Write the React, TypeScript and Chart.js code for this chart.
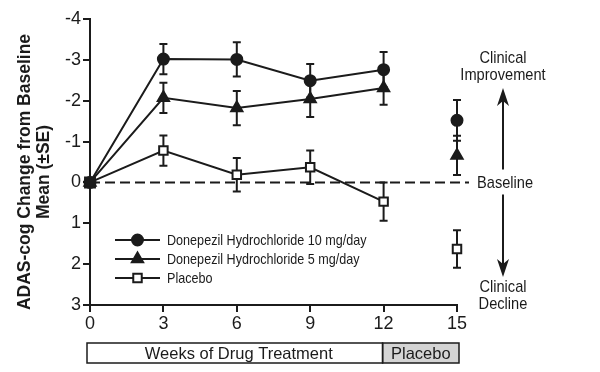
import React, { useEffect, useRef } from 'react';
import { Chart, registerables } from 'chart.js';

Chart.register(...registerables);

// ---- Data ----
const weeks = [0, 3, 6, 9, 12, 15];
const xTicks = [0, 3, 6, 9, 12, 15];
const yTicks = [-4, -3, -2, -1, 0, 1, 2, 3];
const seriesNames = [
  'Donepezil Hydrochloride 10 mg/day',
  'Donepezil Hydrochloride 5 mg/day',
  'Placebo',
];
const don10 = [0, -3.02, -3.01, -2.49, -2.76, -1.52];
const don10SE = [0, 0.37, 0.42, 0.41, 0.43, 0.5];
const don5 = [0, -2.07, -1.82, -2.04, -2.31, -0.66];
const don5SE = [0, 0.37, 0.42, 0.44, 0.41, 0.48];
const placebo = [0, -0.78, -0.19, -0.37, 0.47, 1.63];
const placeboSE = [0, 0.37, 0.41, 0.41, 0.47, 0.46];
const phaseLabels = ['Weeks of Drug Treatment', 'Placebo'];
const phaseBounds = [0, 12, 15];
const yTitle = ['ADAS-cog Change from Baseline', 'Mean (±SE)'];
const upLabel = ['Clinical', 'Improvement'];
const baselineLabel = 'Baseline';
const downLabel = ['Clinical', 'Decline'];

const INK = '#1b1b1b';
const SANS = '"Liberation Sans", Arial, Helvetica, sans-serif';

const styles = [
  { pointStyle: 'circle', radius: 5.5, fill: INK },
  { pointStyle: 'triangle', radius: 6.5, fill: INK },
  { pointStyle: 'rect', radius: 6, fill: '#ffffff' },
];

function narrowText(ctx: CanvasRenderingContext2D, text: string, x: number, y: number, sx: number) {
  ctx.save();
  ctx.translate(x, y);
  ctx.scale(sx, 1);
  ctx.fillText(text, 0, 0);
  ctx.restore();
}

function drawMarker(ctx: CanvasRenderingContext2D, kind: string, x: number, y: number, r: number, fill: string) {
  ctx.save();
  ctx.fillStyle = fill;
  ctx.strokeStyle = INK;
  ctx.lineWidth = 2;
  ctx.beginPath();
  if (kind === 'circle') {
    ctx.arc(x, y, r, 0, Math.PI * 2);
  } else if (kind === 'triangle') {
    const s = (r * Math.sqrt(3)) / 2;
    ctx.moveTo(x, y - r);
    ctx.lineTo(x + s, y + r / 2);
    ctx.lineTo(x - s, y + r / 2);
    ctx.closePath();
  } else {
    const h = r * Math.SQRT1_2;
    ctx.rect(x - h, y - h, 2 * h, 2 * h);
  }
  ctx.fill();
  ctx.stroke();
  ctx.restore();
}

const customPlugin = {
  id: 'customDraw',
  beforeDatasetsDraw(chart: any) {
    const { ctx } = chart;
    const x = chart.scales.x;
    const y = chart.scales.y;
    ctx.save();
    // dashed baseline
    ctx.strokeStyle = INK;
    ctx.lineWidth = 2;
    ctx.setLineDash([10, 5]);
    ctx.beginPath();
    ctx.moveTo(x.getPixelForValue(0), y.getPixelForValue(0));
    ctx.lineTo(x.getPixelForValue(15) + 12, y.getPixelForValue(0));
    ctx.stroke();
    ctx.setLineDash([]);
    // error bars
    const sets: [number[], number[]][] = [
      [don10, don10SE],
      [don5, don5SE],
      [placebo, placeboSE],
    ];
    ctx.lineWidth = 2;
    for (const [vals, se] of sets) {
      vals.forEach((v, i) => {
        if (!se[i]) return;
        const px = x.getPixelForValue(weeks[i]);
        const t = y.getPixelForValue(v - se[i]);
        const b = y.getPixelForValue(v + se[i]);
        ctx.beginPath();
        ctx.moveTo(px, t);
        ctx.lineTo(px, b);
        ctx.moveTo(px - 4, t);
        ctx.lineTo(px + 4, t);
        ctx.moveTo(px - 4, b);
        ctx.lineTo(px + 4, b);
        ctx.stroke();
      });
    }
    ctx.restore();
  },
  afterDraw(chart: any) {
    const { ctx, chartArea } = chart;
    const x = chart.scales.x;
    const y = chart.scales.y;
    ctx.save();
    ctx.fillStyle = INK;
    ctx.strokeStyle = INK;

    // legend
    const lx0 = chartArea.left + 25;
    const lx1 = chartArea.left + 70;
    seriesNames.forEach((name, i) => {
      const ly = chartArea.top + 221 + i * 19;
      ctx.lineWidth = 2;
      ctx.beginPath();
      ctx.moveTo(lx0, ly);
      ctx.lineTo(lx1, ly);
      ctx.stroke();
      drawMarker(ctx, styles[i].pointStyle, (lx0 + lx1) / 2, ly, styles[i].radius, styles[i].fill);
      ctx.fillStyle = INK;
      ctx.font = `15px ${SANS}`;
      ctx.textAlign = 'left';
      ctx.textBaseline = 'middle';
      narrowText(ctx, name, lx1 + 7, ly + 1, 0.84);
    });

    // y title
    ctx.save();
    ctx.font = `bold 17.5px ${SANS}`;
    ctx.textAlign = 'center';
    ctx.textBaseline = 'middle';
    const cy = (chartArea.top + chartArea.bottom) / 2 + 10;
    ctx.translate(25, cy);
    ctx.rotate(-Math.PI / 2);
    ctx.fillText(yTitle[0], 0, 0);
    ctx.fillText(yTitle[1], 0, 19);
    ctx.restore();

    // right annotations
    const ax = x.getPixelForValue(15) + 46;
    const y0 = y.getPixelForValue(0);
    const sx = 0.86;
    ctx.font = `17px ${SANS}`;
    ctx.textAlign = 'center';
    ctx.textBaseline = 'middle';
    narrowText(ctx, upLabel[0], ax, chartArea.top + 39, sx);
    narrowText(ctx, upLabel[1], ax, chartArea.top + 56, sx);
    narrowText(ctx, downLabel[0], ax, chartArea.bottom - 18, sx);
    narrowText(ctx, downLabel[1], ax, chartArea.bottom - 1, sx);
    ctx.textAlign = 'left';
    narrowText(ctx, baselineLabel, ax - 26, y0 + 1, sx);

    // arrows
    ctx.lineWidth = 2;
    const upTip = chartArea.top + 69;
    const downTip = chartArea.bottom - 28;
    ctx.beginPath();
    ctx.moveTo(ax, y0 - 13);
    ctx.lineTo(ax, upTip + 10);
    ctx.moveTo(ax, y0 + 12);
    ctx.lineTo(ax, downTip - 10);
    ctx.stroke();
    ctx.beginPath();
    ctx.moveTo(ax, upTip);
    ctx.lineTo(ax + 6, upTip + 18);
    ctx.lineTo(ax, upTip + 13);
    ctx.lineTo(ax - 6, upTip + 18);
    ctx.closePath();
    ctx.fill();
    ctx.beginPath();
    ctx.moveTo(ax, downTip);
    ctx.lineTo(ax + 6, downTip - 18);
    ctx.lineTo(ax, downTip - 13);
    ctx.lineTo(ax - 6, downTip - 18);
    ctx.closePath();
    ctx.fill();

    // phase boxes
    const bTop = chartArea.bottom + 38;
    const bH = 20;
    const p0 = x.getPixelForValue(phaseBounds[0]) - 3;
    const p1 = x.getPixelForValue(phaseBounds[1]) - 1;
    const p2 = x.getPixelForValue(phaseBounds[2]) + 2;
    ctx.lineWidth = 1.5;
    ctx.fillStyle = '#ffffff';
    ctx.fillRect(p0, bTop, p1 - p0, bH);
    ctx.fillStyle = '#d4d4d4';
    ctx.fillRect(p1, bTop, p2 - p1, bH);
    ctx.strokeRect(p0, bTop, p1 - p0, bH);
    ctx.strokeRect(p1, bTop, p2 - p1, bH);
    ctx.fillStyle = INK;
    ctx.font = `16.5px ${SANS}`;
    ctx.textAlign = 'center';
    ctx.textBaseline = 'middle';
    ctx.fillText(phaseLabels[0], (p0 + p1) / 2 + 4, bTop + bH / 2 + 1);
    ctx.fillText(phaseLabels[1], (p1 + p2) / 2, bTop + bH / 2 + 1);
    ctx.restore();
  },
};

export default function App() {
  const ref = useRef<HTMLCanvasElement | null>(null);
  useEffect(() => {
    if (!ref.current) return;
    const mk = (vals: number[], i: number) => ({
      label: seriesNames[i],
      data: weeks.map((w, j) => ({ x: w, y: vals[j] })),
      borderColor: INK,
      borderWidth: 2,
      pointStyle: styles[i].pointStyle,
      pointRadius: weeks.map((w, j) => (j === 0 && i === 2 ? 7 : styles[i].radius)),
      pointBackgroundColor: weeks.map((w, j) => (j === 0 ? INK : styles[i].fill)),
      pointBorderColor: INK,
      pointBorderWidth: 2,
      tension: 0,
      clip: false,
      segment: {
        borderColor: (c: any) => (c.p1DataIndex === weeks.length - 1 ? 'rgba(0,0,0,0)' : INK),
      },
    });
    const chart = new Chart(ref.current, {
      type: 'line',
      data: {
        datasets: [mk(don10, 0), mk(don5, 1), mk(placebo, 2)] as any,
      },
      options: {
        animation: false,
        responsive: true,
        maintainAspectRatio: false,
        layout: { padding: { top: 19, right: 143, left: 0, bottom: 0 } },
        plugins: { legend: { display: false }, tooltip: { enabled: false } },
        scales: {
          x: {
            type: 'linear',
            min: 0,
            max: 15,
            afterBuildTicks: (s: any) => {
              s.ticks = xTicks.map((v) => ({ value: v }));
            },
            afterFit: (s: any) => {
              s.height = 67;
            },
            ticks: { font: { family: SANS, size: 18 }, color: INK, padding: 1, maxRotation: 0 },
            grid: { drawOnChartArea: false, tickLength: 7, color: INK, lineWidth: 2 },
            border: { color: INK, width: 2 },
          },
          y: {
            type: 'linear',
            reverse: true,
            min: -4,
            max: 3,
            afterBuildTicks: (s: any) => {
              s.ticks = yTicks.map((v) => ({ value: v }));
            },
            afterFit: (s: any) => {
              s.width = 90;
            },
            ticks: { font: { family: SANS, size: 18 }, color: INK, padding: 2 },
            grid: { drawOnChartArea: false, tickLength: 7, color: INK, lineWidth: 2 },
            border: { color: INK, width: 2 },
          },
        },
      },
      plugins: [customPlugin],
    });
    return () => chart.destroy();
  }, []);
  return (
    <div style={{ position: 'fixed', left: 0, top: 0, width: 600, height: 372, background: '#fff' }}>
      <canvas ref={ref} />
    </div>
  );
}
